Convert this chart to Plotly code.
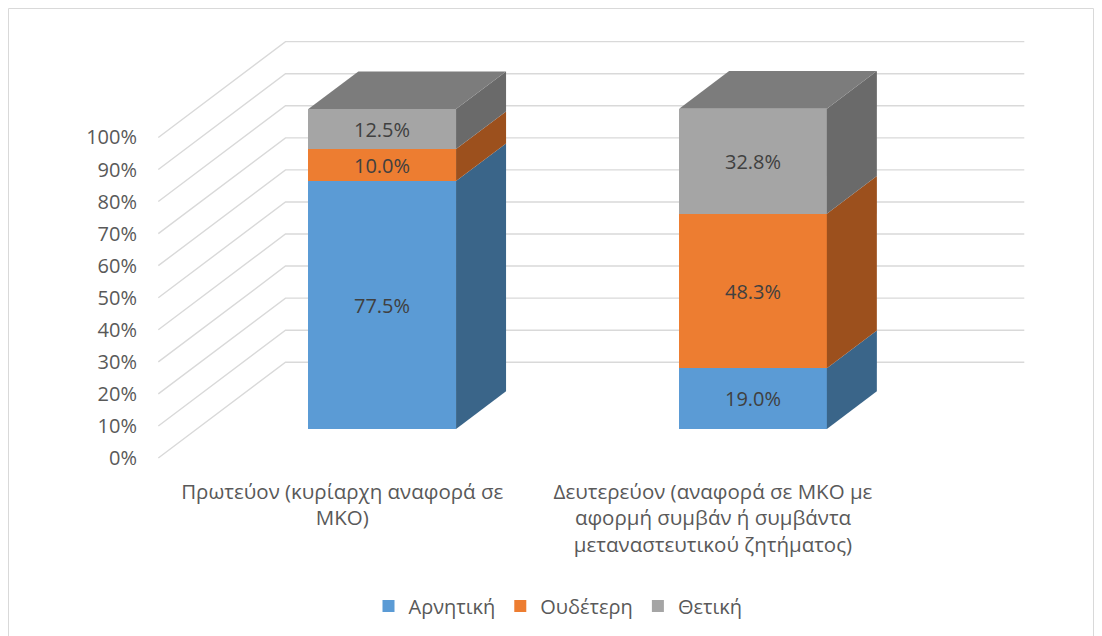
import plotly.graph_objects as go

# ---------------- data ----------------
categories = [
    "Πρωτεύον (κυρίαρχη αναφορά σε<br>ΜΚΟ)",
    "Δευτερεύον (αναφορά σε ΜΚΟ με<br>αφορμή συμβάν ή συμβάντα<br>μεταναστευτικού ζητήματος)",
]
series_names = ["Αρνητική", "Ουδέτερη", "Θετική"]
negative = [77.5, 19.0]
neutral = [10.0, 48.3]
positive = [12.5, 32.8]
y_ticks = [0, 10, 20, 30, 40, 50, 60, 70, 80, 90, 100]

# ---------------- styles ----------------
front_colors = ["#5B9BD5", "#ED7D31", "#A5A5A5"]
side_colors = ["#3A6589", "#9C501D", "#6A6A6A"]
top_colors = ["#4A7DAE", "#C2652A", "#7C7C7C"]
FONT = "Open Sans"
TEXT_COLOR = "#595959"
LABEL_COLOR = "#404040"
GRID_COLOR = "#D9D9D9"

# ---------------- geometry (screen pixels) ----------------
OFF = 8                                  # page body margin
W_FIG, H_FIG = 1094, 628
L, R, T, B = 150, 1040, 20, 470          # plot area in screen px
X0_PX, X_SCALE = 382.2, 370.8            # category 0 centre, px per category
BAR_W_PX = 147.7
BAR_ZERO_PX, BAR_SCALE = 430.0, 320.7    # front face of bars
TICK_ZERO_PX, TICK_SCALE = 459.0, 321.3  # value axis (side wall front edge)
DEPTH_DX, DEPTH_DY = 50.0, 37.8
GRID_X0, GRID_X1, GRID_X2, GRID_DY = 158.3, 285.5, 1024.3, 96.0
LABEL_SHIFT_PX = -40.0


def xu(px):
    return (px - X0_PX) / X_SCALE


x_range = [xu(L), xu(R)]
y_tick_range = [(TICK_ZERO_PX - B) / TICK_SCALE, (TICK_ZERO_PX - T) / TICK_SCALE]
y_bar_range = [(BAR_ZERO_PX - B) / BAR_SCALE, (BAR_ZERO_PX - T) / BAR_SCALE]

bar_w = BAR_W_PX / X_SCALE
ddx = DEPTH_DX / X_SCALE
ddy = DEPTH_DY / BAR_SCALE

fig = go.Figure()

# ---- wall gridlines (base subplot, behind bars) ----
gx, gy = [], []
g_dy = GRID_DY / TICK_SCALE
for t in y_ticks:
    v = t / 100
    gx += [xu(GRID_X0), xu(GRID_X1), xu(GRID_X2), None]
    gy += [v, v + g_dy, v + g_dy, None]
fig.add_trace(go.Scatter(
    x=gx, y=gy, mode="lines", line=dict(color=GRID_COLOR, width=1.4),
    showlegend=False, hoverinfo="skip", xaxis="x", yaxis="y"))

# ---- bars: front faces ----
series = [negative, neutral, positive]
xs = list(range(len(categories)))
for name, vals, col in zip(series_names, series, front_colors):
    fig.add_trace(go.Bar(
        x=xs, y=[v / 100 for v in vals], name=name, width=bar_w,
        marker=dict(color=col, line=dict(width=0)),
        text=[f"{v:.1f}%" for v in vals], textposition="inside",
        insidetextanchor="middle", constraintext="none", textangle=0,
        textfont=dict(family=FONT, size=20, color=LABEL_COLOR),
        hoverinfo="skip", xaxis="x", yaxis="y2"))

# ---- side faces and top faces (computed from the same data) ----
for i in xs:
    base = 0.0
    xr = i + bar_w / 2
    xl = i - bar_w / 2
    for vals, scol in zip(series, side_colors):
        top = base + vals[i] / 100
        fig.add_trace(go.Scatter(
            x=[xr, xr + ddx, xr + ddx, xr, xr],
            y=[base, base + ddy, top + ddy, top, base],
            mode="lines", fill="toself", fillcolor=scol,
            line=dict(width=0, color=scol), showlegend=False,
            hoverinfo="skip", xaxis="x", yaxis="y2"))
        base = top
    fig.add_trace(go.Scatter(
        x=[xl, xl + ddx, xr + ddx, xr, xl],
        y=[base, base + ddy, base + ddy, base, base],
        mode="lines", fill="toself", fillcolor=top_colors[-1],
        line=dict(width=0, color=top_colors[-1]), showlegend=False,
        hoverinfo="skip", xaxis="x", yaxis="y2"))

# ---- layout ----
shift = LABEL_SHIFT_PX / X_SCALE
pw, ph = R - L, B - T
fig.update_layout(
    width=W_FIG, height=H_FIG,
    margin=dict(l=L - OFF, r=W_FIG - (R - OFF), t=T - OFF, b=H_FIG - (B - OFF), pad=0),
    paper_bgcolor="white", plot_bgcolor="rgba(0,0,0,0)",
    barmode="stack", bargap=0,
    font=dict(family=FONT, color=TEXT_COLOR, size=20),
    xaxis=dict(range=x_range, tickvals=[i + shift for i in xs], ticktext=categories,
               showgrid=False, zeroline=False, showline=False, ticks="",
               ticklabelstandoff=8,
               tickfont=dict(family=FONT, size=20.5, color=TEXT_COLOR), fixedrange=True),
    yaxis=dict(range=y_tick_range, tickvals=[t / 100 for t in y_ticks],
               ticktext=[f"{t}%" for t in y_ticks], showgrid=False, zeroline=False,
               showline=False, ticks="", ticklabelstandoff=12,
               tickfont=dict(family=FONT, size=20, color=TEXT_COLOR), fixedrange=True),
    yaxis2=dict(range=y_bar_range, overlaying="y", visible=False, fixedrange=True),
    legend=dict(orientation="h", x=(558 - L) / pw, xanchor="center",
                y=(B - 606) / ph, yanchor="middle", traceorder="normal",
                font=dict(family=FONT, size=20, color=TEXT_COLOR), itemwidth=30),
    shapes=[dict(type="rect", xref="paper", yref="paper",
                 x0=(OFF + 0.5 - L) / pw, x1=(1093.5 - L) / pw,
                 y0=(B - 660) / ph, y1=(B - OFF - 0.5) / ph,
                 line=dict(color="#D9D9D9", width=1), layer="below")],
)

fig.write_html("out.html")
